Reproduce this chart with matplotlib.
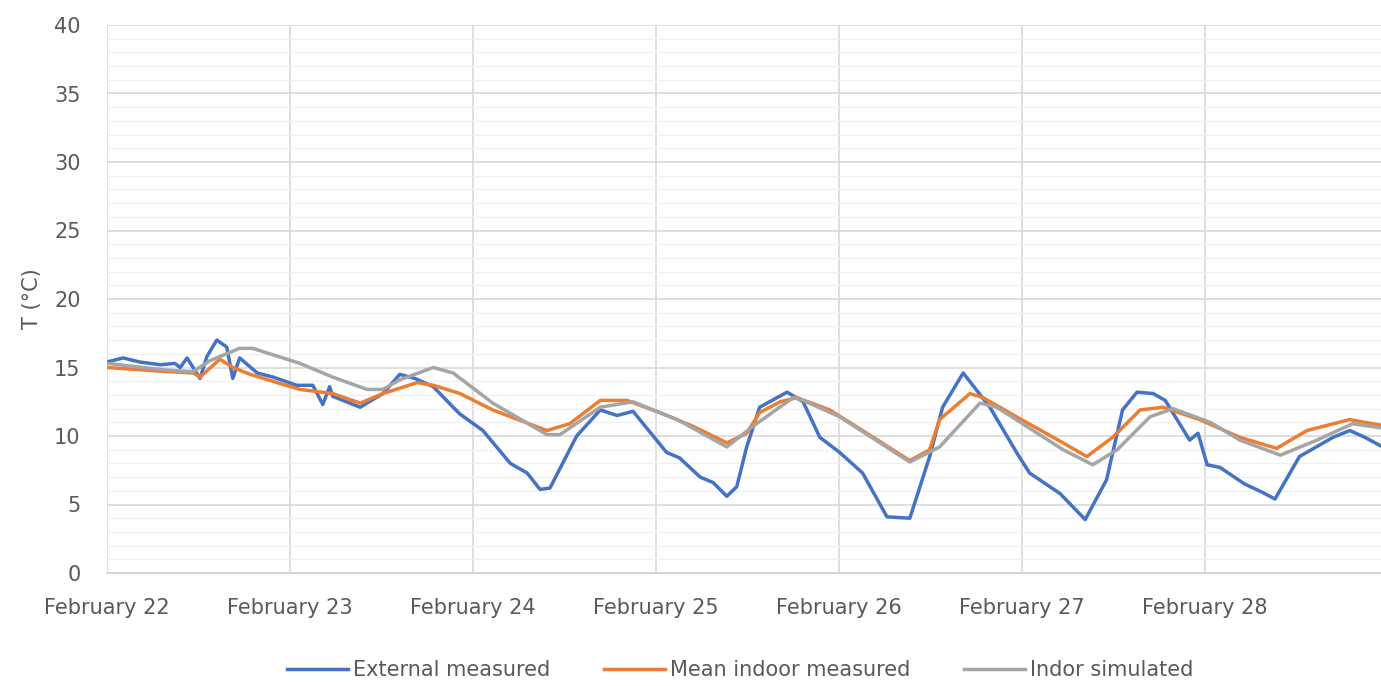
import matplotlib
matplotlib.use("Agg")
import matplotlib.pyplot as plt
import numpy as np
from matplotlib.ticker import MultipleLocator

plt.rcParams["font.family"] = ["DejaVu Sans"]

# Data (hours since Feb 22 00:00, temperature in degC)
ext_hours = [0.0, 2.1, 4.3, 7.0, 8.9, 9.6, 10.5, 12.2, 13.1, 14.4, 15.7, 16.5, 17.4,
             19.7, 21.8, 24.9, 27.0, 28.3, 29.2, 29.6, 33.2, 36.2, 38.4, 40.4, 42.8,
             45.4, 46.3, 49.3, 52.9, 55.1, 56.8, 58.1, 61.6, 64.7, 66.9, 69.0, 73.4,
             75.1, 77.8, 79.5, 81.3, 82.6, 83.9, 85.6, 89.2, 91.3, 93.5, 96.1, 99.1,
             102.3, 105.3, 107.9, 109.6, 112.3, 115.8, 119.3, 121.0, 125.0, 128.3,
             131.1, 133.2, 135.1, 137.2, 138.8, 142.0, 143.1, 144.3, 146.0, 149.2,
             151.5, 153.2, 156.4, 160.8, 163.0, 165.0, 167.0]
ext_temp = [15.4, 15.7, 15.4, 15.2, 15.3, 15.0, 15.7, 14.2, 15.8, 17.0, 16.5, 14.2, 15.7,
            14.6, 14.3, 13.7, 13.7, 12.3, 13.6, 12.9, 12.1, 13.1, 14.5, 14.2, 13.6,
            12.1, 11.6, 10.4, 8.0, 7.3, 6.1, 6.2, 10.0, 11.9, 11.5, 11.8, 8.8,
            8.4, 7.0, 6.6, 5.6, 6.3, 9.2, 12.1, 13.2, 12.5, 9.9, 8.8, 7.3,
            4.1, 4.0, 8.5, 12.1, 14.6, 12.1, 8.8, 7.3, 5.8, 3.9,
            6.8, 11.9, 13.2, 13.1, 12.6, 9.7, 10.2, 7.9, 7.7, 6.5,
            5.9, 5.4, 8.5, 9.9, 10.4, 9.9, 9.3]

indoor_hours = [0.0, 7.9, 11.3, 12.2, 14.8, 16.5, 18.8, 22.3, 25.3, 29.6, 33.2, 36.2,
                40.7, 42.8, 46.3, 50.6, 57.7, 60.7, 64.7, 68.2, 72.5, 76.9, 81.3, 83.9,
                85.6, 88.3, 90.5, 94.8, 99.1, 105.3, 107.9, 109.2, 113.2, 114.9, 119.3,
                125.4, 128.5, 131.9, 135.5, 138.5, 143.3, 148.6, 153.4, 157.4, 163.0, 167.0]
indoor_temp = [15.0, 14.7, 14.6, 14.3, 15.6, 15.0, 14.5, 13.9, 13.4, 13.1, 12.4, 13.1,
               13.9, 13.7, 13.1, 11.9, 10.4, 10.9, 12.6, 12.6, 11.7, 10.7, 9.5, 10.2,
               11.7, 12.5, 12.8, 11.9, 10.4, 8.2, 9.0, 11.2, 13.1, 12.8, 11.4,
               9.5, 8.5, 9.9, 11.9, 12.1, 11.2, 9.9, 9.1, 10.4, 11.2, 10.8]

sim_hours = [0.0, 7.9, 11.3, 13.5, 17.4, 19.1, 25.3, 29.6, 34.1, 36.2, 38.4, 42.8, 45.4,
             50.6, 57.7, 59.4, 64.7, 69.0, 74.8, 81.3, 84.7, 90.0, 91.3, 96.1, 105.3,
             109.2, 114.5, 116.7, 125.4, 129.3, 132.5, 136.8, 139.8, 144.7, 148.6,
             153.9, 158.7, 163.4, 167.0]
sim_temp = [15.3, 14.8, 14.7, 15.5, 16.4, 16.4, 15.3, 14.3, 13.4, 13.4, 14.1, 15.0, 14.6,
            12.4, 10.1, 10.1, 12.1, 12.5, 11.2, 9.2, 10.7, 12.8, 12.6, 11.4, 8.1,
            9.2, 12.4, 12.1, 9.0, 7.9, 9.0, 11.4, 12.0, 11.0, 9.7,
            8.6, 9.7, 10.9, 10.6]

day_labels = ["February 22", "February 23", "February 24", "February 25",
              "February 26", "February 27", "February 28"]

txt = "#595959"
fs = 15
fig = plt.figure(figsize=(13.81, 6.86), dpi=100)
ax = fig.add_axes([107 / 1381, 113 / 686, 1 - 107 / 1381, 548 / 686])

ax.plot(ext_hours, ext_temp, color="#4472C4", lw=2.5, label="External measured", zorder=3)
ax.plot(indoor_hours, indoor_temp, color="#ED7D31", lw=2.5, label="Mean indoor measured", zorder=4)
ax.plot(sim_hours, sim_temp, color="#A5A5A5", lw=2.5, label="Indor simulated", zorder=5)

ax.set_xlim(0, 167.1)
ax.set_ylim(0, 40)
ax.set_xticks(np.arange(len(day_labels)) * 24)
ax.set_xticklabels(day_labels)
ax.yaxis.set_major_locator(MultipleLocator(5))
ax.yaxis.set_minor_locator(MultipleLocator(1))
ax.grid(which="major", axis="both", color="#D9D9D9", lw=1.2, zorder=0)
ax.grid(which="minor", axis="y", color="#F0F0F0", lw=1.0, zorder=0)
ax.set_axisbelow(True)
for s in ["top", "right", "left"]:
    ax.spines[s].set_visible(False)
ax.spines["bottom"].set_color("#D0D0D0")
ax.spines["bottom"].set_linewidth(1.2)
ax.tick_params(axis="both", which="both", length=0, colors=txt, labelsize=fs)
ax.tick_params(axis="y", pad=19)
ax.tick_params(axis="x", pad=18)
ax.set_ylabel("T (°C)", color=txt, fontsize=fs, labelpad=9)

fig.legend(loc="center", bbox_to_anchor=(0.536, 0.023), ncol=3, frameon=False,
           fontsize=fs, handlelength=2.9, handletextpad=0.25, columnspacing=2.6,
           labelcolor=txt)

fig.savefig("out.png", dpi=100)
